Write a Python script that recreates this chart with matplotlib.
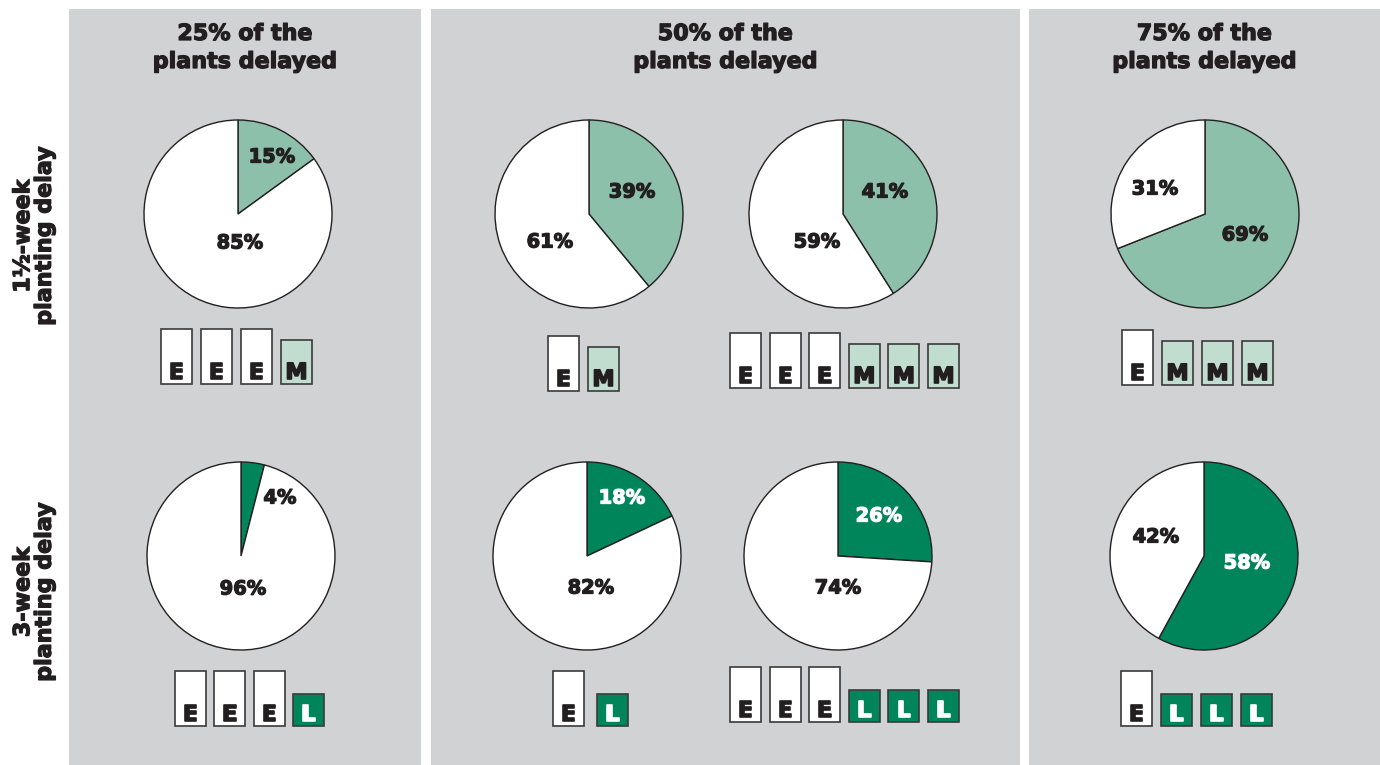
import matplotlib.pyplot as plt
import matplotlib.patheffects as pe
from matplotlib.patches import Rectangle

# ─────────────────────────────────────────
# Data
# ─────────────────────────────────────────
panel_titles = ["25% of the\nplants delayed",
                "50% of the\nplants delayed",
                "75% of the\nplants delayed"]
row_labels   = ["1\u00bd-week\nplanting delay", "3-week\nplanting delay"]

# share of the field (%) for the delayed-plant slice and the rest
mid_share    = [15, 39, 41, 69]     # 1.5-week delay, light green
mid_rest     = [85, 61, 59, 31]
late_share   = [4, 18, 26, 58]      # 3-week delay, dark green
late_rest    = [96, 82, 74, 42]

# plant patterns under each pie
mid_plants   = ["EEEM", "EM", "EEEMMM", "EMMM"]
late_plants  = ["EEEL", "EL", "EEELLL", "ELLL"]

# ─────────────────────────────────────────
# Layout / style (pixel coordinates, y from top)
# ─────────────────────────────────────────
W, H = 1380, 765
GRAY      = "#d1d2d4"
LIGHT     = "#8cc0aa"
LIGHT_BOX = "#c1ddd0"
DARK      = "#00855a"
INK       = "#231f20"
FONT      = ["DejaVu Sans"]

panels    = [(69, 421), (431, 1020), (1029, 1380)]
pie_x     = [[238, 589, 843, 1205], [241, 587, 838, 1204]]
pie_y     = [214, 556]
radius    = 94
# label offsets from pie centre: (share label), (rest label)
label_off = [
    [((34, -57), (2, 29)), ((43, -22), (-39, 28)),
     ((42, -22), (-26, 28)), ((40, 21), (-50, -25))],
    [((39, -58), (2, 33)), ((35, -58), (4, 32)),
     ((41, -40), (0, 32)), ((43, 7), (-48, -19))],
]
# colour of the share label (4% sits outside its thin slice)
share_ink = [[INK, INK, INK, INK], [INK, "white", "white", "white"]]
box_start = [[(161, 384), (548, 391), (730, 388), (1122, 385)],
             [(175, 726), (553, 726), (730, 722), (1121, 726)]]
box_pitch = [[40, 40, 39.6, 40], [39.3, 44, 39.6, 40]]
box_w     = 31
box_h     = {"E": 55, "M": 44, "L": 32}
box_fill  = {"E": "white", "M": LIGHT_BOX, "L": DARK}
box_ink   = {"E": INK, "M": INK, "L": "white"}


def Y(y):
    return H - y


def heavy(color, lw=0.9):
    # thicken DejaVu bold towards the black weight of the original
    return [pe.withStroke(linewidth=lw, foreground=color)]


fig = plt.figure(figsize=(W / 100, H / 100), dpi=100)
ax = fig.add_axes([0, 0, 1, 1])

# background panels + titles
for (x0, x1), title in zip(panels, panel_titles):
    ax.add_patch(Rectangle((x0, 0), x1 - x0, Y(9), facecolor=GRAY,
                           edgecolor="none", zorder=0))
    l1, l2 = title.split("\n")
    xc = (x0 + x1) / 2
    for txt, ty in ((l1, 34), (l2, 62)):
        ax.text(xc, Y(ty), txt, ha="center", va="center", fontsize=16,
                fontweight="bold", color=INK, family=FONT,
                path_effects=heavy(INK))

# row labels
for lbl, ty in zip(row_labels, [236, 592]):
    ax.text(34, Y(ty), lbl, rotation=90, ha="center", va="center",
            multialignment="center", fontsize=16, fontweight="bold",
            color=INK, family=FONT, linespacing=1.1,
            path_effects=heavy(INK))

rows = [(mid_share, mid_rest, LIGHT, mid_plants),
        (late_share, late_rest, DARK, late_plants)]

for r, (share, rest, col, plants) in enumerate(rows):
    for i in range(4):
        cx, cy = pie_x[r][i], pie_y[r]
        ax.pie([share[i], rest[i]], colors=[col, "white"], startangle=90,
               counterclock=False, center=(cx, Y(cy)), radius=radius,
               wedgeprops=dict(edgecolor=INK, linewidth=1))
        (sdx, sdy), (rdx, rdy) = label_off[r][i]
        ax.text(cx + sdx, Y(cy + sdy), f"{share[i]}%", ha="center",
                va="center", fontsize=14, fontweight="bold",
                color=share_ink[r][i], family=FONT,
                path_effects=heavy(share_ink[r][i]))
        ax.text(cx + rdx, Y(cy + rdy), f"{rest[i]}%", ha="center",
                va="center", fontsize=14, fontweight="bold",
                color=INK, family=FONT, path_effects=heavy(INK))

        # little plant boxes
        bx, by = box_start[r][i]
        for k, p in enumerate(plants[i]):
            x = bx + k * box_pitch[r][i]
            ax.add_patch(Rectangle((x, Y(by)), box_w, box_h[p],
                                   facecolor=box_fill[p], edgecolor="#3a3a3a",
                                   linewidth=1.2, zorder=3))
            ax.text(x + box_w / 2, Y(by) + 5, p, ha="center", va="baseline",
                    fontsize=16, fontweight="bold", color=box_ink[p],
                    family=FONT, zorder=4, path_effects=heavy(box_ink[p], 1.2))

ax.set_xlim(0, W)
ax.set_ylim(0, H)
ax.set_aspect("auto")
ax.axis("off")

fig.savefig("out.png", dpi=100, facecolor="white")
